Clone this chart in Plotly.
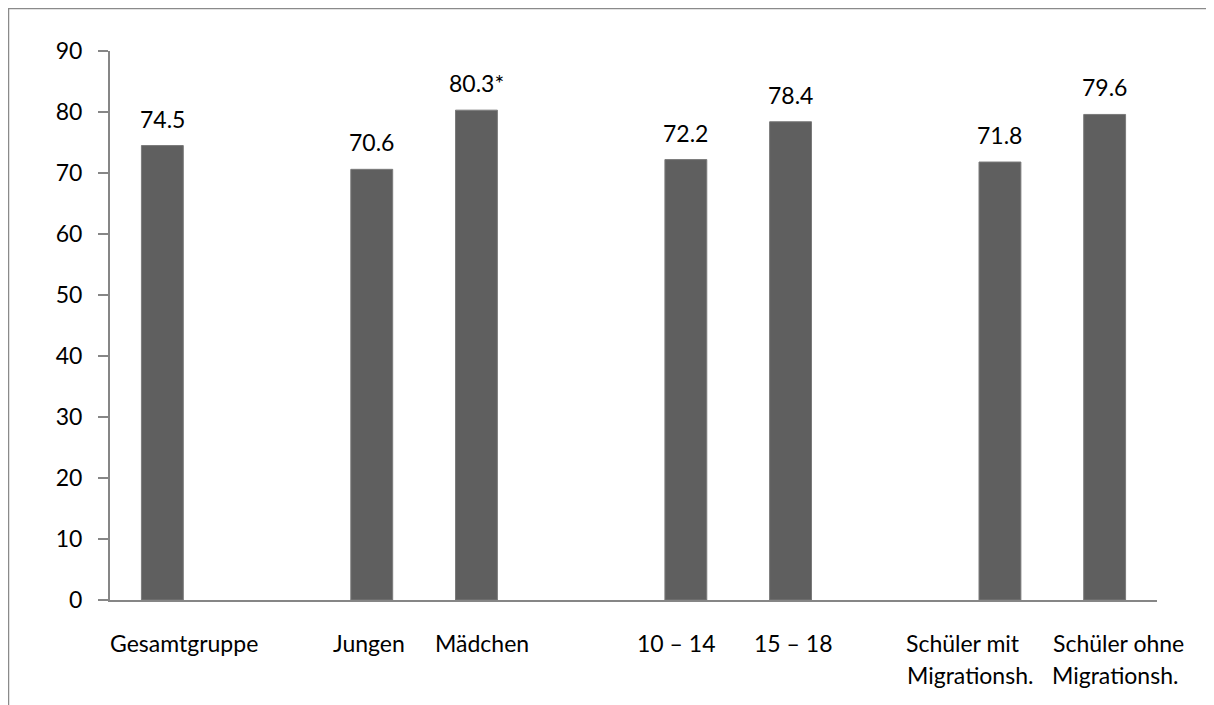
import plotly.graph_objects as go

# ---- data ----
categories = ["Gesamtgruppe", "", "Jungen", "Mädchen", "", "10 – 14", "15 – 18", "",
              "Schüler mit<br>Migrationsh.", "Schüler ohne<br>Migrationsh."]
values = [74.5, None, 70.6, 80.3, None, 72.2, 78.4, None, 71.8, 79.6]
value_labels = ["74.5", "", "70.6", "80.3*", "", "72.2", "78.4", "", "71.8", "79.6"]
y_ticks = [0, 10, 20, 30, 40, 50, 60, 70, 80, 90]

# ---- style ----
# the page body adds an 8px margin, so the figure starts at (8, 8) in the window
W, H = 1206, 697
ML, MR, MT, MB = 102, 57, 43, 105
FONT = "Lato"
FS = 23
BAR = "#5f5f5f"
AXIS = "#868686"
# horizontal pixel shift of each category label line (Excel-style label placement)
label_xshift = [[22], [0], [-3], [6], [0], [-10], [2], [0], [-37, -30], [14, 10]]
LINE_GAP = 32

x = list(range(len(categories)))

fig = go.Figure()
fig.add_trace(go.Bar(
    x=x, y=values, width=0.4,
    marker=dict(color=BAR, line=dict(color="#7a7a7a", width=1)),
    hoverinfo="skip",
))

annotations = []
for i, (v, t) in enumerate(zip(values, value_labels)):
    if v is None:
        continue
    annotations.append(dict(x=i, y=v, text=t, showarrow=False, yanchor="bottom",
                            yshift=11, font=dict(family=FONT, size=FS, color="#000")))
for i, c in enumerate(categories):
    if not c:
        continue
    for k, line in enumerate(c.split("<br>")):
        annotations.append(dict(x=i, y=0, text=line, showarrow=False, yanchor="top",
                                xshift=label_xshift[i][k], yshift=-27 - LINE_GAP * k,
                                font=dict(family=FONT, size=FS, color="#000")))

pw = W - ML - MR
ph = H - MT - MB
fig.update_layout(
    width=W, height=H,
    margin=dict(l=ML, r=MR, t=MT, b=MB, pad=0),
    paper_bgcolor="white", plot_bgcolor="white",
    showlegend=False,
    font=dict(family=FONT, size=FS, color="#000"),
    xaxis=dict(range=[-0.5, len(categories) - 0.5], showticklabels=False, ticks="",
               showgrid=False, zeroline=False, showline=True, linecolor=AXIS, linewidth=2,
               fixedrange=True),
    yaxis=dict(range=[0, 90], tickvals=y_ticks, ticks="outside", ticklen=10, tickwidth=2,
               tickcolor=AXIS, showgrid=False, zeroline=False, showline=True,
               linecolor=AXIS, linewidth=2, ticklabelstandoff=11,
               tickfont=dict(family=FONT, size=FS, color="#000"), fixedrange=True),
    annotations=annotations,
    shapes=[dict(type="rect", xref="paper", yref="paper",
                 x0=(0.5 - ML) / pw, x1=(W + 20 - ML) / pw,
                 y0=-(MB + 20) / ph, y1=(ph + MT - 0.5) / ph,
                 line=dict(color="#8a8a8a", width=1.5), layer="below")],
)

fig.write_html("out.html")
